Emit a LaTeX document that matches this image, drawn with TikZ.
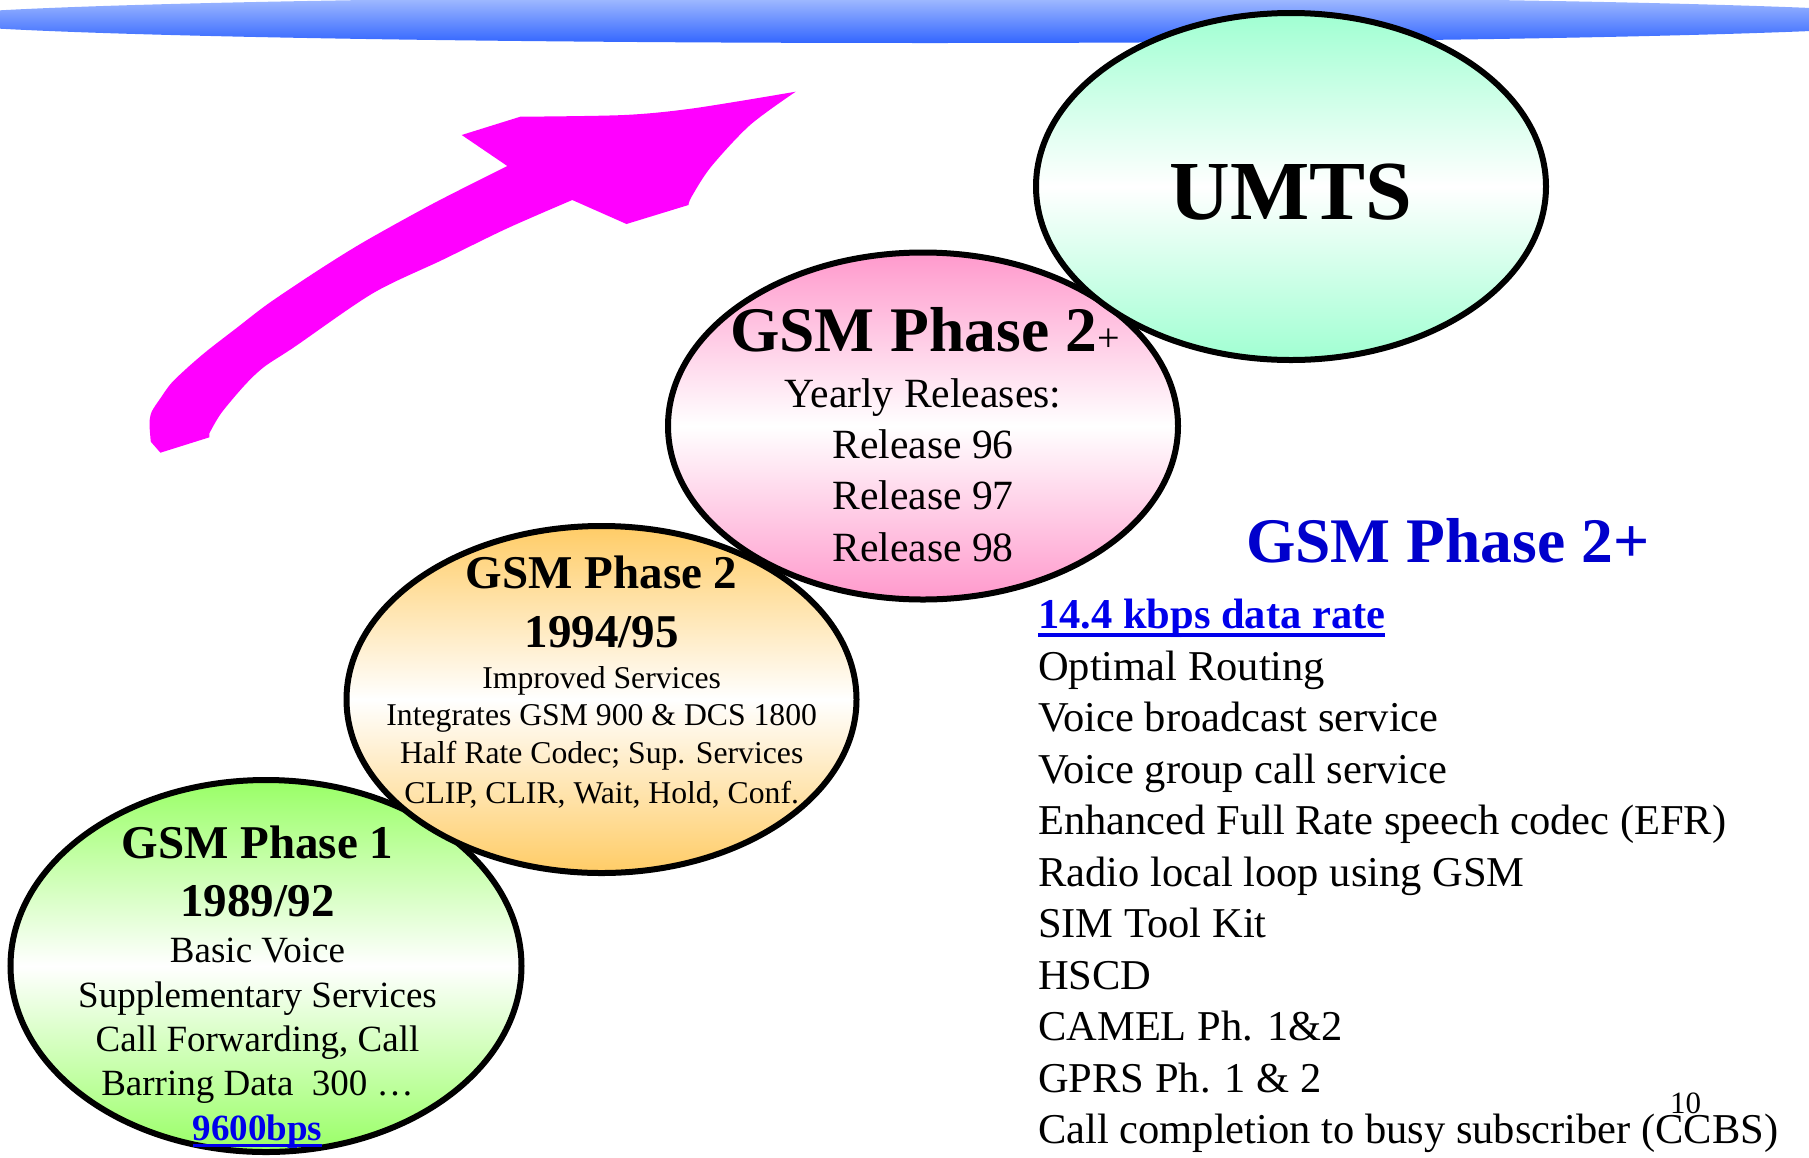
\documentclass[tikz,border=0pt]{standalone}
\usepackage{fontspec}
\setmainfont{Liberation Serif}
\usetikzlibrary{shapes.geometric}
\definecolor{umtsc}{RGB}{160,255,210}
\definecolor{pinkc}{RGB}{255,153,204}
\definecolor{orangec}{RGB}{255,204,102}
\definecolor{greenc}{RGB}{153,255,102}
\definecolor{bartop}{RGB}{166,190,255}
\definecolor{barbot}{RGB}{51,102,255}
\definecolor{arrowc}{RGB}{255,0,255}
\definecolor{titleblue}{RGB}{0,0,204}
\definecolor{linkblue}{RGB}{0,0,235}
\newcommand\fsz[1]{\fontsize{#1}{#1}\selectfont}
\newcommand\myul[2]{\setbox0\hbox{#2}\rlap{\rule[#1]{\wd0}{3.5pt}}\box0}
\tikzset{
  bubble/.style={ellipse, draw=black, line width=6pt, inner sep=0pt,
    minimum width=510pt, minimum height=347pt},
  txt/.style={anchor=base, inner sep=0pt},
  lst/.style={anchor=base west, inner sep=0pt, font=\fsz{42.5}},
}
\begin{document}
\begin{tikzpicture}[x=1pt,y=-1pt]
\useasboundingbox (0,0) rectangle (1809,1157);
% top bar
\shade[top color=bartop, bottom color=barbot] (930,19.5) ellipse [x radius=1010pt, y radius=23.5pt];
% magenta arrow
\fill[arrowc] (160.4,452.7)
 -- plot[smooth, tension=0.5] coordinates {(150.8,441.7) (149.5,423.3) (151.7,411.7) (160.4,398.3) (171.2,383.3) (188.5,366.7) (208.1,350) (236.2,328.3) (268.8,303.3) (318.6,270) (364.2,241.7) (433.6,203.3) (507.3,166)}
 -- (461.7,135) -- (520.3,116.7)
 -- plot[smooth, tension=0.5] coordinates {(520.3,116.7) (624.4,115) (693.7,108.3) (795.7,91.7)}
 -- plot[smooth, tension=0.5] coordinates {(795.7,91.7) (750.1,125) (711.1,166.7) (691.6,196.7) (688.5,205)}
 -- (626.5,224) -- (572.3,200)
 -- plot[smooth, tension=0.5] coordinates {(572.3,200) (507.3,228.3) (442.2,260) (372.8,293.3) (294.8,346.7) (264.4,366.7) (244.9,385) (221.1,413.3) (209.4,433.3)}
 -- (209.4,437.3) -- cycle;
% GSM Phase 1
\node[bubble, minimum width=511pt, minimum height=372pt, top color=greenc, bottom color=greenc, middle color=white] (ph1) at (266,966) {};
\node[txt, font=\fsz{47}\bfseries] (g1) at (257.5,858.3) {GSM Phase 1};
\node[txt, font=\fsz{47}\bfseries] (g2) at (257.5,916) {1989/92};
\node[txt, font=\fsz{37}] (g3) at (257.5,962.7) {Basic Voice};
\node[txt, font=\fsz{37}] (g4) at (257.5,1007.3) {Supplementary Services};
\node[txt, font=\fsz{37}] (g5) at (257.5,1051.7) {Call Forwarding, Call};
\node[txt, font=\fsz{37}] (g6) at (257.5,1095) {Barring Data~~300 …};
\node[txt, font=\fsz{37}\bfseries, text=linkblue] (g7) at (257.5,1140) {\myul{-7pt}{9600bps}};
% GSM Phase 2
\node[bubble, top color=orangec, bottom color=orangec, middle color=white] (ph2) at (601.5,699.5) {};
\node[txt, font=\fsz{47}\bfseries] (o1) at (601.7,588) {GSM Phase 2};
\node[txt, font=\fsz{47}\bfseries] (o2) at (601.7,647) {1994/95};
\node[txt, font=\fsz{31.7}] (o3) at (601.7,688.3) {Improved Services};
\node[txt, font=\fsz{31.7}] (o4) at (601.7,725) {Integrates GSM 900 \& DCS 1800};
\node[txt, font=\fsz{31.7}] (o5) at (601.7,763.3) {Half Rate Codec; Sup. Services};
\node[txt, font=\fsz{31.7}] (o6) at (601.7,803.3) {CLIP, CLIR, Wait, Hold, Conf.};
% GSM Phase 2+
\node[bubble, top color=pinkc, bottom color=pinkc, middle color=white] (ph2p) at (923,426) {};
\node[txt, font=\fsz{63.5}\bfseries] (p1) at (925,351.7) {GSM Phase 2{\fsz{40}\mdseries +}};
\node[txt, font=\fsz{41.6}] (p2) at (923,407.7) {Yearly Releases:};
\node[txt, font=\fsz{41.6}] (p3) at (923,458.3) {Release 96};
\node[txt, font=\fsz{41.6}] (p4) at (923,509.3) {Release 97};
\node[txt, font=\fsz{41.6}] (p5) at (923,561) {Release 98};
% UMTS
\node[bubble, top color=umtsc, bottom color=umtsc, middle color=white] (umts) at (1291,186.5) {};
\node[txt, font=\fsz{84}\bfseries] (u1) at (1291,219) {UMTS};
% right column
\node[anchor=base west, inner sep=0pt, font=\fsz{63.5}\bfseries, text=titleblue] (rt) at (1246,562.7) {GSM Phase 2+};
\node[lst, font=\fsz{42.5}\bfseries, text=linkblue] (r0) at (1038,628.5) {\myul{-8pt}{14.4 kbps data rate}};
\node[lst] (r1) at (1038,680) {Optimal Routing};
\node[lst] (r2) at (1038,731.5) {Voice broadcast service};
\node[lst] (r3) at (1038,783) {Voice group call service};
\node[lst] (r4) at (1038,834.5) {Enhanced Full Rate speech codec (EFR)};
\node[lst] (r5) at (1038,886) {Radio local loop using GSM};
\node[lst] (r6) at (1038,937.5) {SIM Tool Kit};
\node[lst] (r7) at (1038,989) {HSCD};
\node[lst] (r8) at (1038,1040.5) {CAMEL Ph. 1\&2};
\node[lst] (r9) at (1038,1092) {GPRS Ph. 1 \& 2};
\node[lst] (r10) at (1038,1143.5) {Call completion to busy subscriber (CCBS)};
\node[anchor=base west, inner sep=0pt, font=\fsz{31}] (pg) at (1670,1113) {10};
\end{tikzpicture}
\end{document}
